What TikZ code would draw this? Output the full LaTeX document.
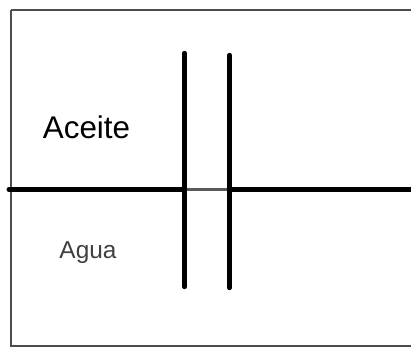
\documentclass[tikz,border=0pt]{standalone}
\usepackage{fontspec}
\setmainfont{Liberation Sans}
\begin{document}
\begin{tikzpicture}[x=1bp,y=-1bp,
  frame/.style={draw=black!70,line width=1.6bp},
  thick line/.style={line width=5bp,line cap=round},
  vline/.style={line width=4.3bp,line cap=round},
  lbl/.style={inner sep=0pt,anchor=center}]
\useasboundingbox (0,0) rectangle (411,347);
\fill[white] (0,0) rectangle (411,347);
\draw[frame] (11,10) -- (411,10) (11,10) -- (11,346) -- (411,346);
\coordinate (hl) at (9,189.5);
\coordinate (hr) at (411,189.5);
\coordinate (a1) at (184.5,189.5);
\coordinate (a2) at (229.5,189.5);
\coordinate (v1t) at (184.5,53);
\coordinate (v1b) at (184.5,287);
\coordinate (v2t) at (229.5,55);
\coordinate (v2b) at (229.5,288);
\draw[thick line] (hl) -- (a1);
\draw[thick line] (a2) -- (hr);
\draw[black!65,line width=3bp] (a1) -- (a2);
\draw[vline] (v1t) -- (v1b);
\draw[vline] (v2t) -- (v2b);
\node[lbl,font=\fontsize{31.5}{31.5}\selectfont] (aceite) at (86.5,127) {Aceite};
\node[lbl,font=\fontsize{24.5}{24.5}\selectfont,text=black!75] (agua) at (88,253) {Agua};
\end{tikzpicture}
\end{document}
